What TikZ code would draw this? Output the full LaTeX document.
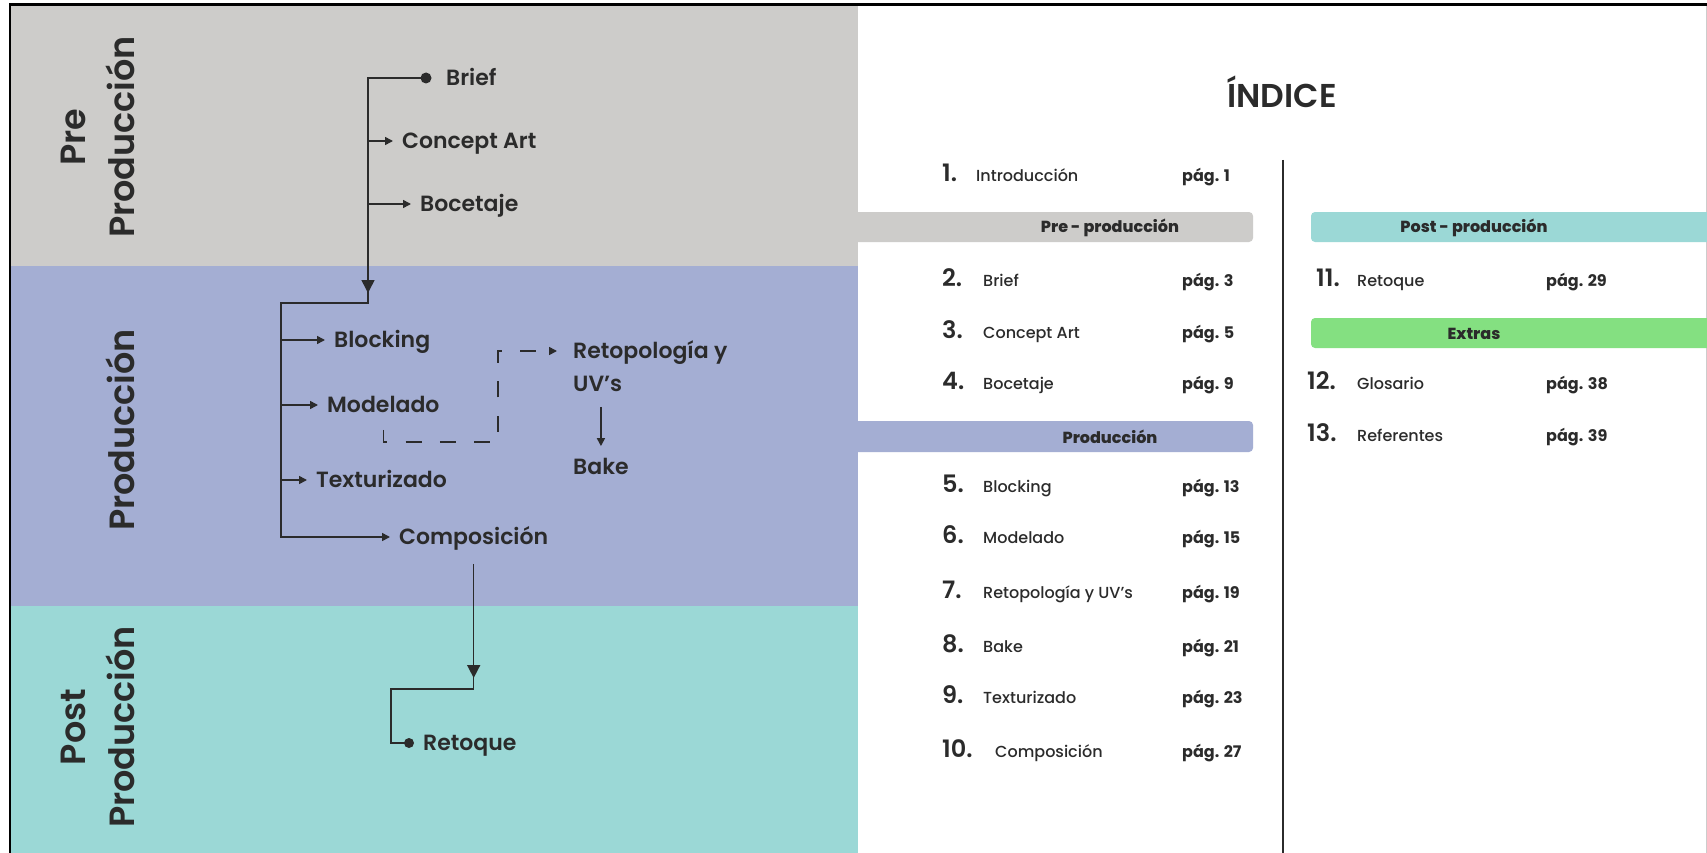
\documentclass[tikz,border=0pt]{standalone}
\usepackage{fontspec}
\setmainfont{Poppins}
\newfontfamily\popmed{Poppins Medium}
\newfontfamily\popsemi{Poppins SemiBold}
\newfontfamily\popbold{Poppins Bold}
\newfontfamily\popxbold{Poppins ExtraBold}
\usetikzlibrary{arrows.meta}

\definecolor{ink}{HTML}{2B2B2B}
\definecolor{preband}{HTML}{CDCCCA}
\definecolor{prodband}{HTML}{A4AED3}
\definecolor{postband}{HTML}{9BD8D6}
\definecolor{extraband}{HTML}{84E081}

\tikzset{
  conn/.style={draw=ink, line width=1.6pt},
  arr/.style={conn, -{Triangle[length=8pt,width=8pt]}},
  bigtip/.style={conn, -{Triangle[length=13pt,width=13pt]}},
  dashline/.style={conn, dash pattern=on 16pt off 18.3pt, -{Triangle[length=8pt,width=8pt]}},
  enddot/.style={circle, fill=ink, inner sep=0pt, minimum size=11pt},
  flowlbl/.style={anchor=west, inner xsep=9pt, inner ysep=0pt, text height=15.4pt,
    text depth=0pt, text=ink, font=\popsemi\fontsize{22}{26}\selectfont},
  phaselbl/.style={rotate=90, anchor=base, inner sep=0pt, text=ink,
    font=\popsemi\fontsize{35}{40}\selectfont},
  tocnum/.style={anchor=base west, inner sep=0pt, text=ink, font=\popsemi\fontsize{24}{28}\selectfont},
  tocitem/.style={anchor=base west, inner sep=0pt, text=ink, font=\popmed\fontsize{16}{19}\selectfont},
  tocpage/.style={anchor=base west, inner sep=0pt, text=ink, font=\popbold\fontsize{16}{19}\selectfont},
  bartitle/.style={anchor=base, inner sep=0pt, text=ink, font=\popxbold\fontsize{16}{19}\selectfont},
}

\begin{document}
\begin{tikzpicture}[x=1pt, y=-1pt]
\useasboundingbox (0,0) rectangle (1707,853);
\fill[white] (0,0) rectangle (1707,853);

% phase bands
\fill[preband]  (11,6)   rectangle (858,266);
\fill[prodband] (11,266) rectangle (858,606);
\fill[postband] (11,606) rectangle (858,853);

% page frame
\draw[black, line width=2.5pt] (9,4.5) -- (1707,4.5);
\draw[black, line width=1.5pt] (10,3.5) -- (10,853);
\draw[black!20, line width=1pt] (1706.5,6) -- (1706.5,853);

% phase titles
\node[phaselbl] (preA)  at (85,137)  {Pre};
\node[phaselbl] (preB)  at (134,137) {Producción};
\node[phaselbl] (prod)  at (134,430) {Producción};
\node[phaselbl] (postA) at (85,727)  {Post};
\node[phaselbl] (postB) at (134,727) {Producción};

% workflow labels
\node[enddot] (dotB) at (426,78) {};
\node[flowlbl] (brief)       at (437,78)  {Brief};
\node[flowlbl] (concept)     at (393,141) {Concept Art};
\node[flowlbl] (boceto)      at (411,204) {Bocetaje};
\node[flowlbl] (blocking)    at (325,340) {Blocking};
\node[flowlbl] (modelado)    at (318,405) {Modelado};
\node[flowlbl] (texturizado) at (307,480) {Texturizado};
\node[flowlbl] (composicion) at (390,537) {Composición};
\node[flowlbl, inner xsep=16pt] (retopo) at (557,351) {Retopología y};
\node[flowlbl] (uvs)  at (564,384) {UV’s};
\node[flowlbl] (bake) at (564,467) {Bake};
\node[enddot, minimum size=10pt] (dotR) at (409,743) {};
\node[flowlbl] (retoque) at (414,743) {Retoque};

% spine coordinates
\coordinate (c1) at (368,78);
\coordinate (tipA) at (368,293);
\coordinate (c2) at (368,303);
\coordinate (c3) at (281,303);
\coordinate (c4) at (composicion.south |- 0,689);
\coordinate (tipB) at (composicion.south |- 0,678);
\coordinate (c5) at (391,689);
\coordinate (mstart) at ([yshift=-17pt]modelado.south);
\coordinate (dcorner) at (498,442);

% pre-production branch
\draw[arr] (dotB.center) -- (c1) -- (c2) -- (c3) |- (composicion.west);
\draw[bigtip] ([yshift=14pt]tipA) -- (tipA);
\draw[arr] (c1 |- concept.west) -- (concept.west);
\draw[arr] (c1 |- boceto.west) -- (boceto.west);

% production branch
\draw[arr] (c3 |- blocking.west) -- (blocking.west);
\draw[arr] (c3 |- modelado.west) -- (modelado.west);
\draw[arr] (c3 |- texturizado.west) -- (texturizado.west);
\draw[dashline] (mstart) |- (dcorner) |- (retopo.west);
\draw[arr] (bake.north |- uvs.south) ++(0,15) -- ([yshift=13pt]bake.north);

% post-production branch
\draw[conn] ([yshift=-19pt]composicion.south) -- (c4) -- (c5) |- (dotR.center);
\draw[bigtip] ([yshift=14pt]tipB) -- (tipB);

% index
\node[anchor=base, inner sep=0pt, text=ink, font=\popsemi\fontsize{33}{38}\selectfont] (title) at (1282,108) {ÍNDICE};
\draw[ink, line width=2pt] (1283,160) -- (1283,853);

\fill[preband, rounded corners=4pt]   (850,212)  rectangle (1253,242);
\fill[prodband, rounded corners=4pt]  (850,421)  rectangle (1253,452);
\fill[postband, rounded corners=4pt]  (1311,212) rectangle (1730,242);
\fill[extraband, rounded corners=4pt] (1311,318) rectangle (1730,348);
\node[bartitle] (hPre)   at (1110,233) {Pre - producción};
\node[bartitle] (hProd)  at (1110,443) {Producción};
\node[bartitle] (hPost)  at (1474,233) {Post - producción};
\node[bartitle] (hExtra) at (1474,339) {Extras};

\foreach \k/\num/\nx/\txt/\tx/\pg/\px/\by in {
  1/1./942/Introducción/976/pág. 1/1182/182,
  2/2./942/Brief/983/pág. 3/1182/286,
  3/3./942/Concept Art/983/pág. 5/1182/338,
  4/4./942/Bocetaje/983/pág. 9/1182/389,
  5/5./942/Blocking/983/pág. 13/1182/492,
  6/6./942/Modelado/983/pág. 15/1182/543,
  7/7./942/Retopología y UV’s/983/pág. 19/1182/598,
  8/8./942/Bake/983/pág. 21/1182/652,
  9/9./942/Texturizado/983/pág. 23/1182/703,
  10/10./942/Composición/995/pág. 27/1182/757,
  11/11./1316/Retoque/1357/pág. 29/1546/286,
  12/12./1307/Glosario/1357/pág. 38/1546/389,
  13/13./1307/Referentes/1357/pág. 39/1546/441}{
  \node[tocnum]  (num\k)  at (\nx,\by) {\num};
  \node[tocitem] (item\k) at (\tx,\by) {\txt};
  \node[tocpage] (page\k) at (\px,\by) {\pg};
}
\end{tikzpicture}
\end{document}
